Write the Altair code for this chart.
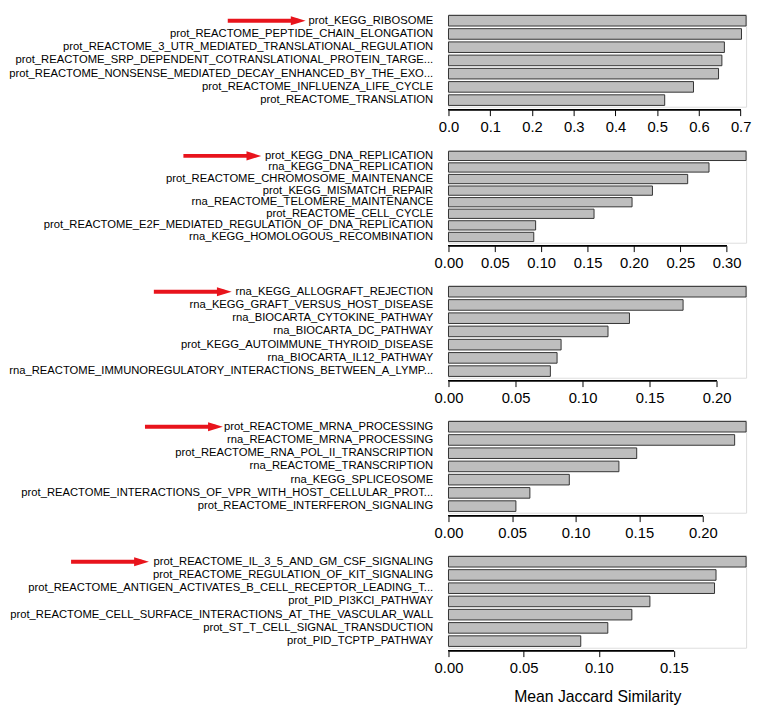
import altair as alt
import pandas as pd

# ---------------- data ----------------
labels1 = [
    "prot_KEGG_RIBOSOME",
    "prot_REACTOME_PEPTIDE_CHAIN_ELONGATION",
    "prot_REACTOME_3_UTR_MEDIATED_TRANSLATIONAL_REGULATION",
    "prot_REACTOME_SRP_DEPENDENT_COTRANSLATIONAL_PROTEIN_TARGE...",
    "prot_REACTOME_NONSENSE_MEDIATED_DECAY_ENHANCED_BY_THE_EXO...",
    "prot_REACTOME_INFLUENZA_LIFE_CYCLE",
    "prot_REACTOME_TRANSLATION",
]
values1 = [0.713, 0.702, 0.661, 0.655, 0.647, 0.587, 0.518]
ticks1 = [0.0, 0.1, 0.2, 0.3, 0.4, 0.5, 0.6, 0.7]

labels2 = [
    "prot_KEGG_DNA_REPLICATION",
    "rna_KEGG_DNA_REPLICATION",
    "prot_REACTOME_CHROMOSOME_MAINTENANCE",
    "prot_KEGG_MISMATCH_REPAIR",
    "rna_REACTOME_TELOMERE_MAINTENANCE",
    "prot_REACTOME_CELL_CYCLE",
    "prot_REACTOME_E2F_MEDIATED_REGULATION_OF_DNA_REPLICATION",
    "rna_KEGG_HOMOLOGOUS_RECOMBINATION",
]
values2 = [0.321, 0.281, 0.258, 0.220, 0.198, 0.157, 0.094, 0.092]
ticks2 = [0.0, 0.05, 0.10, 0.15, 0.20, 0.25, 0.30]

labels3 = [
    "rna_KEGG_ALLOGRAFT_REJECTION",
    "rna_KEGG_GRAFT_VERSUS_HOST_DISEASE",
    "rna_BIOCARTA_CYTOKINE_PATHWAY",
    "rna_BIOCARTA_DC_PATHWAY",
    "prot_KEGG_AUTOIMMUNE_THYROID_DISEASE",
    "rna_BIOCARTA_IL12_PATHWAY",
    "rna_REACTOME_IMMUNOREGULATORY_INTERACTIONS_BETWEEN_A_LYMP...",
]
values3 = [0.222, 0.175, 0.135, 0.119, 0.084, 0.081, 0.076]
ticks3 = [0.0, 0.05, 0.10, 0.15, 0.20]

labels4 = [
    "prot_REACTOME_MRNA_PROCESSING",
    "rna_REACTOME_MRNA_PROCESSING",
    "prot_REACTOME_RNA_POL_II_TRANSCRIPTION",
    "rna_REACTOME_TRANSCRIPTION",
    "rna_KEGG_SPLICEOSOME",
    "prot_REACTOME_INTERACTIONS_OF_VPR_WITH_HOST_CELLULAR_PROT...",
    "prot_REACTOME_INTERFERON_SIGNALING",
]
values4 = [0.234, 0.225, 0.148, 0.134, 0.095, 0.064, 0.053]
ticks4 = [0.0, 0.05, 0.10, 0.15, 0.20]

labels5 = [
    "prot_REACTOME_IL_3_5_AND_GM_CSF_SIGNALING",
    "prot_REACTOME_REGULATION_OF_KIT_SIGNALING",
    "prot_REACTOME_ANTIGEN_ACTIVATES_B_CELL_RECEPTOR_LEADING_T...",
    "prot_PID_PI3KCI_PATHWAY",
    "prot_REACTOME_CELL_SURFACE_INTERACTIONS_AT_THE_VASCULAR_WALL",
    "prot_ST_T_CELL_SIGNAL_TRANSDUCTION",
    "prot_PID_TCPTP_PATHWAY",
]
values5 = [0.198, 0.178, 0.177, 0.134, 0.122, 0.106, 0.088]
ticks5 = [0.0, 0.05, 0.10, 0.15]

formats = [".1f", ".2f", ".2f", ".2f", ".2f"]
x_title = "Mean Jaccard Similarity"

# ---------------- style ----------------
FONT = "Liberation Sans"
W = 302
H = 94
AX_OFFSET = 3
LABEL_PAD = 16
LABEL_SIZE = 11.4
RED = "#e8141c"
# arrow tip position relative to the right edge of the y labels (px)
arrow_tips = [-129, -174, -204, -213, -288]
ARROW_LEN = 79
HEAD_LEN = 15


def make_panel(labels, values, ticks, fmt, tip_rel, last):
    df = pd.DataFrame({"label": labels, "value": values})
    xscale = alt.Scale(domain=[0, max(values)], nice=False, zero=True)
    yenc = alt.Y(
        "label:N",
        sort=labels,
        scale=alt.Scale(paddingInner=0.2, paddingOuter=0.1),
        axis=alt.Axis(
            title=None, ticks=False, domain=False, labelPadding=LABEL_PAD,
            labelLimit=700, labelFontSize=LABEL_SIZE, labelFont=FONT,
            labelColor="black",
        ),
    )
    axis_kw = dict(
        values=ticks, format=fmt, domain=False, grid=False, tickSize=6,
        tickColor="black", tickWidth=1, offset=AX_OFFSET, labelFontSize=15,
        labelPadding=4, labelColor="black", labelFont=FONT, labelFlush=False,
        labelOverlap=False,
    )
    if last:
        axis_kw.update(title=x_title, titleFontSize=16, titleFontWeight="normal",
                       titleFont=FONT, titlePadding=14, titleColor="black")
    else:
        axis_kw.update(title=None)

    bars = alt.Chart(df).mark_bar(
        fill="#bebebe", stroke="#333333", strokeWidth=1
    ).encode(
        x=alt.X("value:Q", scale=xscale, axis=alt.Axis(**axis_kw)),
        y=yenc,
    )

    axis_line = alt.Chart(df).mark_rule(color="black", strokeWidth=1).encode(
        x=alt.datum(ticks[0]),
        x2=alt.datum(ticks[-1]),
        y=alt.value(H + AX_OFFSET),
    )

    tip = -LABEL_PAD + tip_rel
    arrow_df = pd.DataFrame({"label": [labels[0]]})
    shaft = alt.Chart(arrow_df).mark_rule(color=RED, strokeWidth=4).encode(
        x=alt.value(tip - ARROW_LEN),
        x2=alt.value(tip - HEAD_LEN / 2),
        y=yenc,
    )
    head = alt.Chart(arrow_df).mark_point(
        shape="M-1,-0.62L1,0L-1,0.62Z", filled=True, size=HEAD_LEN ** 2,
        color=RED, opacity=1,
    ).encode(
        x=alt.value(tip - HEAD_LEN / 2),
        y=yenc,
    )

    return alt.layer(bars, axis_line, shaft, head).properties(width=W, height=H)


all_labels = [labels1, labels2, labels3, labels4, labels5]
all_values = [values1, values2, values3, values4, values5]
all_ticks = [ticks1, ticks2, ticks3, ticks4, ticks5]

panels = [
    make_panel(l, v, t, f, a, i == 4)
    for i, (l, v, t, f, a) in enumerate(
        zip(all_labels, all_values, all_ticks, formats, arrow_tips)
    )
]

chart = (
    alt.vconcat(*panels, spacing=13)
    .properties(padding=0)
    .configure_view(stroke=None)
    .configure(font=FONT)
)

chart.save("out.html", embed_options={"renderer": "svg", "actions": False})
